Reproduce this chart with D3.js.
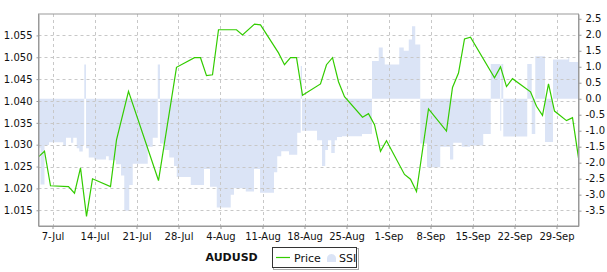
<!DOCTYPE html>
<html>
<head>
<meta charset="utf-8">
<script src="https://cdn.jsdelivr.net/npm/d3@7"></script>
<style>
  body { margin: 0; background: #fff; }
  text { font-family: "DejaVu Sans", sans-serif; }
</style>
</head>
<body>
<div id="container"></div>
<script>
// price, daily close
const priceDates = ['2012-07-04', '2012-07-05', '2012-07-06', '2012-07-09', '2012-07-10', '2012-07-11',
  '2012-07-12', '2012-07-13', '2012-07-16', '2012-07-17', '2012-07-19', '2012-07-24', '2012-07-27',
  '2012-07-30', '2012-07-31', '2012-08-01', '2012-08-02', '2012-08-03', '2012-08-06', '2012-08-07',
  '2012-08-09', '2012-08-10', '2012-08-13', '2012-08-14', '2012-08-15', '2012-08-16', '2012-08-17',
  '2012-08-20', '2012-08-21', '2012-08-22', '2012-08-23', '2012-08-24', '2012-08-27', '2012-08-28',
  '2012-08-29', '2012-08-30', '2012-08-31', '2012-09-03', '2012-09-04', '2012-09-05', '2012-09-07',
  '2012-09-10', '2012-09-11', '2012-09-12', '2012-09-13', '2012-09-14', '2012-09-18', '2012-09-19',
  '2012-09-20', '2012-09-21', '2012-09-24', '2012-09-25', '2012-09-26', '2012-09-27', '2012-09-28',
  '2012-09-30', '2012-10-01', '2012-10-02']
const priceValues = [1.0272, 1.0285, 1.0206, 1.0204, 1.0189, 1.0247,
  1.0136, 1.0222, 1.0204, 1.0311, 1.0422, 1.0218, 1.0477,
  1.0499, 1.0499, 1.0458, 1.0460, 1.0563, 1.0563, 1.0551,
  1.0576, 1.0574, 1.0510, 1.0483, 1.0499, 1.0499, 1.0413,
  1.0439, 1.0483, 1.0499, 1.0444, 1.0410, 1.0363, 1.0371,
  1.0346, 1.0285, 1.0309, 1.0232, 1.0221, 1.0193, 1.0382,
  1.0331, 1.0431, 1.0464, 1.0542, 1.0546, 1.0453, 1.0478,
  1.0433, 1.0451, 1.0421, 1.0388, 1.0367, 1.0439, 1.0377,
  1.0355, 1.0362, 1.0270]

// SSI, value changes
const ssiTimes = ['2012-07-04 16:00', '2012-07-05 00:00', '2012-07-05 16:00', '2012-07-06 10:00', '2012-07-08 19:00',
  '2012-07-09 06:00', '2012-07-10 02:00', '2012-07-10 11:00', '2012-07-11 01:00', '2012-07-11 11:00',
  '2012-07-12 01:00', '2012-07-12 07:00', '2012-07-12 14:00', '2012-07-13 01:00', '2012-07-13 23:00',
  '2012-07-15 22:00', '2012-07-16 09:00', '2012-07-17 14:00', '2012-07-18 10:00', '2012-07-18 23:00',
  '2012-07-19 19:00', '2012-07-20 09:00', '2012-07-22 21:00', '2012-07-23 17:00', '2012-07-24 13:00',
  '2012-07-24 22:00', '2012-07-25 15:00', '2012-07-26 11:00', '2012-07-27 06:00', '2012-07-27 17:00',
  '2012-07-30 01:00', '2012-08-01 06:00', '2012-08-02 06:00', '2012-08-03 09:00', '2012-08-05 17:00',
  '2012-08-06 06:00', '2012-08-08 05:00', '2012-08-09 14:00', '2012-08-10 14:00', '2012-08-12 22:00',
  '2012-08-13 11:00', '2012-08-14 03:00', '2012-08-15 10:00', '2012-08-16 19:00', '2012-08-17 09:00',
  '2012-08-17 14:00', '2012-08-20 02:00', '2012-08-20 22:00', '2012-08-21 11:00', '2012-08-21 22:00',
  '2012-08-22 11:00', '2012-08-23 01:00', '2012-08-23 10:00', '2012-08-24 06:00', '2012-08-27 14:00',
  '2012-08-29 06:00', '2012-08-30 09:00', '2012-08-31 01:00', '2012-08-31 09:00', '2012-09-02 19:00',
  '2012-09-03 13:00', '2012-09-04 09:00', '2012-09-04 22:00', '2012-09-05 11:00', '2012-09-06 07:00',
  '2012-09-07 10:00', '2012-09-09 15:00', '2012-09-11 06:00', '2012-09-11 19:00', '2012-09-13 05:00',
  '2012-09-14 14:00', '2012-09-16 19:00', '2012-09-18 01:00', '2012-09-19 15:00', '2012-09-19 19:00',
  '2012-09-20 03:00', '2012-09-24 03:00', '2012-09-24 21:00', '2012-09-25 11:00', '2012-09-27 02:00',
  '2012-09-28 10:00', '2012-09-30 23:00', '2012-10-01 03:00', '2012-10-02 16:00']
const ssiValues = [-1.53, -2.68, -1.45, -1.36, -1.48,
  -1.22, -1.38, -1.22, -1.55, -1.65,
  -1.45, 1.07, -1.55, -1.84, -1.9,
  -1.8, -1.92, -2.05, -2.4, -3.5,
  -2.7, -2.03, -1.5, -1.22, 1.07,
  -1.4, -1.6, -1.84, -2.1, -2.45,
  -2.7, -2.2, -2.75, -3.4, -3.0,
  -2.8, -2.9, -2.2, -2.94, -2.3,
  -1.8, -1.64, -1.75, -1.06, 1.02,
  -1.0, -1.3, -2.1, -1.6, -1.3,
  -1.7, -1.3, -1.2, -1.17, -1.1,
  1.18, 1.6, 1.3, 1.07, 1.6,
  1.5, 1.85, 2.27, 1.7, -1.4,
  -2.14, -1.5, -1.9, -1.38, -1.5,
  -1.46, -1.1, 1.09, -1.0, 1.09,
  -1.18, 1.09, -1.1, 1.33, -1.35,
  1.23, 1.3, 1.15, 1.15]

const dateTicks = ['2012-07-07', '2012-07-14', '2012-07-21', '2012-07-28', '2012-08-04', '2012-08-11',
  '2012-08-18', '2012-08-25', '2012-09-01', '2012-09-08', '2012-09-15', '2012-09-22', '2012-09-29']
const priceTicks = [1.015, 1.020, 1.025, 1.030, 1.035, 1.040, 1.045, 1.050, 1.055]
const ssiTicks = [2.5, 2.0, 1.5, 1.0, 0.5, 0.0, -0.5, -1.0, -1.5, -2.0, -2.5, -3.0, -3.5]

const parseDay = d3.timeParse('%Y-%m-%d %H:%M')

function displayChart() {
  const width = 607, height = 272
  const margin = { top: 14, right: 28.5, bottom: 46, left: 38.5 }

  const price = priceDates.map((d, i) => ({ date: parseDay(d + ' 16:00'), value: priceValues[i] }))
  const ssi = ssiTimes.map((d, i) => ({ date: parseDay(d), value: ssiValues[i] }))

  const svg = d3.select('#container').append('svg')
    .attr('width', width)
    .attr('height', height)

  const x = d3.scaleTime()
    .domain([parseDay('2012-07-04 16:00'), parseDay('2012-10-02 16:00')])
    .range([margin.left, width - margin.right])
  const yPrice = d3.scaleLinear()
    .domain([1.0114, 1.0599])
    .range([height - margin.bottom, margin.top])
  const ySsi = d3.scaleLinear()
    .domain([-3.98, 2.65])
    .range([height - margin.bottom, margin.top])

  svg.append('clipPath').attr('id', 'plot')
    .append('rect')
    .attr('x', margin.left).attr('y', margin.top)
    .attr('width', width - margin.left - margin.right)
    .attr('height', height - margin.top - margin.bottom)

  // SSI area
  const area = d3.area()
    .curve(d3.curveStepAfter)
    .x(d => x(d.date))
    .y0(ySsi(0))
    .y1(d => ySsi(d.value))
  svg.append('path')
    .datum(ssi)
    .attr('clip-path', 'url(#plot)')
    .attr('fill', '#dbe4f6')
    .attr('d', area)

  // grid
  const grid = svg.append('g')
    .attr('stroke', '#c8c8c8')
    .attr('stroke-dasharray', '3,3')
  grid.selectAll('.hg').data(priceTicks).enter().append('line')
    .attr('x1', margin.left).attr('x2', width - margin.right)
    .attr('y1', d => Math.round(yPrice(d)) + 0.5).attr('y2', d => Math.round(yPrice(d)) + 0.5)
  grid.selectAll('.vg').data(dateTicks).enter().append('line')
    .attr('x1', d => Math.round(x(parseDay(d + ' 00:00'))) + 0.5)
    .attr('x2', d => Math.round(x(parseDay(d + ' 00:00'))) + 0.5)
    .attr('y1', margin.top).attr('y2', height - margin.bottom)

  // price line
  const line = d3.line()
    .x(d => x(d.date))
    .y(d => yPrice(d.value))
  svg.append('path')
    .datum(price)
    .attr('clip-path', 'url(#plot)')
    .attr('fill', 'none')
    .attr('stroke', '#33cc00')
    .attr('stroke-width', 1.2)
    .attr('d', line)

  // frame
  svg.append('rect')
    .attr('x', margin.left).attr('y', margin.top)
    .attr('width', width - margin.left - margin.right)
    .attr('height', height - margin.top - margin.bottom)
    .attr('fill', 'none')
    .attr('stroke', '#999')

  // axes
  const xAxis = d3.axisBottom(x)
    .tickValues(dateTicks.map(d => parseDay(d + ' 00:00')))
    .tickFormat(d3.timeFormat('%-d-%b'))
    .tickSize(3).tickSizeOuter(0).tickPadding(4)
  const gx = svg.append('g')
    .attr('transform', `translate(0,${height - margin.bottom})`)
    .call(xAxis)

  const yAxisL = d3.axisLeft(yPrice)
    .tickValues(priceTicks)
    .tickFormat(d3.format('.3f'))
    .tickSize(2).tickSizeOuter(0).tickPadding(4)
  const gyl = svg.append('g')
    .attr('transform', `translate(${margin.left},0)`)
    .call(yAxisL)

  const yAxisR = d3.axisRight(ySsi)
    .tickValues(ssiTicks)
    .tickFormat(d => d.toFixed(1))
    .tickSize(3).tickSizeOuter(0).tickPadding(4)
  const gyr = svg.append('g')
    .attr('transform', `translate(${width - margin.right},0)`)
    .call(yAxisR)

  ;[gx, gyl, gyr].forEach(g => {
    g.select('.domain').attr('stroke', '#999')
    g.selectAll('.tick line').attr('stroke', '#999')
    g.selectAll('text').attr('fill', '#111').attr('font-size', '10px')
      .attr('font-family', '"DejaVu Sans", sans-serif')
  })

  // legend
  const legend = svg.append('g')
  legend.append('text')
    .attr('x', 205.5).attr('y', 261)
    .attr('font-size', '11px').attr('font-weight', 'bold').attr('fill', '#111')
    .text('AUDUSD')
  legend.append('rect')
    .attr('x', 273.5).attr('y', 248.5).attr('width', 85).attr('height', 21)
    .attr('fill', 'none').attr('stroke', '#aaa')
  legend.append('rect')
    .attr('x', 272.5).attr('y', 247.5).attr('width', 84).attr('height', 20)
    .attr('fill', '#fff').attr('stroke', '#333')
  legend.append('line')
    .attr('x1', 276).attr('x2', 290).attr('y1', 257.5).attr('y2', 257.5)
    .attr('stroke', '#33cc00').attr('stroke-width', 1.2)
  legend.append('text')
    .attr('x', 294).attr('y', 262)
    .attr('font-size', '11px').attr('fill', '#111')
    .text('Price')
  legend.append('path')
    .attr('d', 'M327,262 L327,258 Q328,254 331.5,254 Q335,254 336,258 L336,262 Z')
    .attr('fill', '#dbe4f6')
  legend.append('text')
    .attr('x', 339).attr('y', 262)
    .attr('font-size', '11px').attr('fill', '#111')
    .text('SSI')
}

displayChart()
</script>
</body>
</html>
